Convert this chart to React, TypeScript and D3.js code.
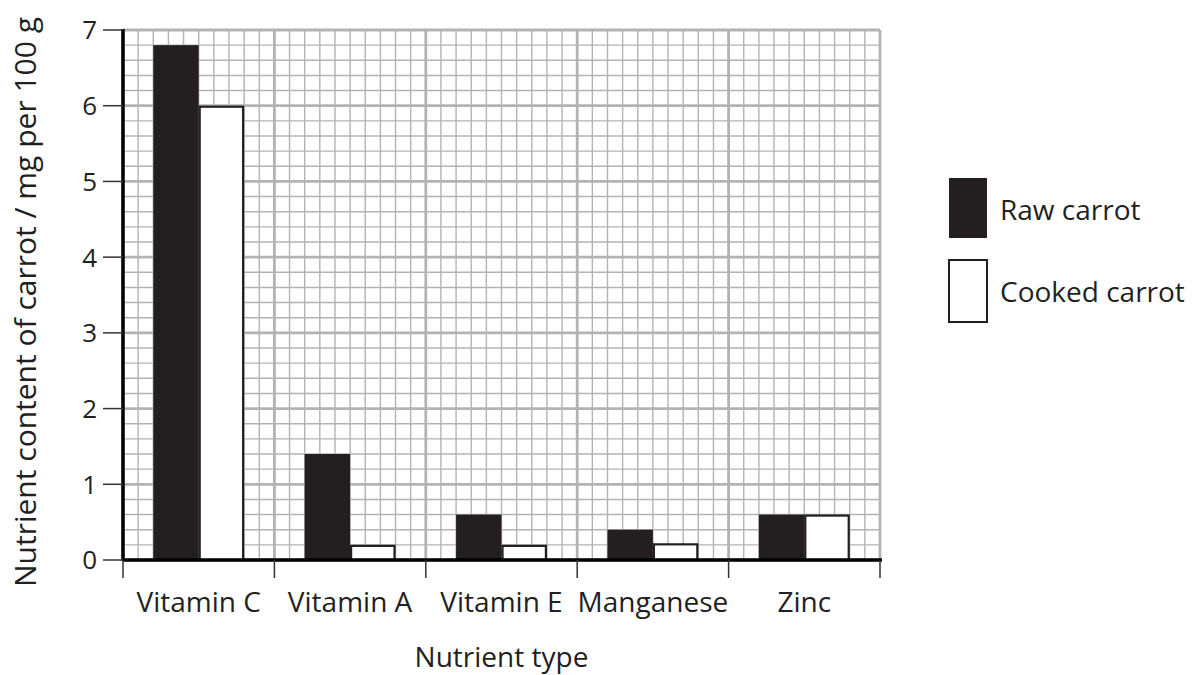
import React from "react";
import * as d3 from "d3";

// nutrient values, mg per 100 g
const categories = ["Vitamin C", "Vitamin A", "Vitamin E", "Manganese", "Zinc"];
const rawCarrot = [6.8, 1.4, 0.6, 0.4, 0.6];
const cookedCarrot = [6.0, 0.2, 0.2, 0.22, 0.6];
const yTicks = [0, 1, 2, 3, 4, 5, 6, 7];
const seriesNames = ["Raw carrot", "Cooked carrot"];

const FONT = "'Open Sans', sans-serif";
const GRID = "#b3b3b3";
const DARK = "#231f20";

export default function App() {
  const width = 1195;
  const height = 675;
  const margin = { top: 30, right: 315, bottom: 115, left: 123 };
  const plotW = width - margin.left - margin.right;
  const plotH = height - margin.top - margin.bottom;

  const x = d3.scaleBand().domain(categories).range([0, plotW]).padding(0);
  const bw = x.bandwidth();
  // bars sit on cells 2..8 of the 10 grid cells in each category
  const inner = d3
    .scaleBand()
    .domain(seriesNames)
    .range([bw * 0.2, bw * 0.8])
    .padding(0);
  const y = d3.scaleLinear().domain([0, 7]).range([plotH, 0]);

  // grid lines
  const hLines = d3.range(0, 7.0001, 0.2).map((v, i) => ({ v, major: i % 5 === 0 }));
  const vLines = d3.range(0, categories.length * 10 + 1).map((i) => ({ pos: (i * bw) / 10, major: i % 10 === 0 }));

  const series = [
    { name: seriesNames[0], values: rawCarrot, fill: DARK },
    { name: seriesNames[1], values: cookedCarrot, fill: "#fff" },
  ];

  return (
    <svg width={width} height={height} style={{ position: "absolute", left: 0, top: 0, background: "#fff" }}>
      <g transform={`translate(${margin.left},${margin.top})`}>
        {/* minor grid first, major on top */}
        {hLines.filter((d) => !d.major).map((d, i) => (
          <line key={"hm" + i} x1={0} x2={plotW} y1={y(d.v)} y2={y(d.v)} stroke={GRID} strokeWidth={1.4} />
        ))}
        {vLines.filter((d) => !d.major).map((d, i) => (
          <line key={"vm" + i} x1={d.pos} x2={d.pos} y1={0} y2={plotH} stroke={GRID} strokeWidth={1.4} />
        ))}
        {hLines.filter((d) => d.major).map((d, i) => (
          <line key={"hM" + i} x1={0} x2={plotW} y1={y(d.v)} y2={y(d.v)} stroke={GRID} strokeWidth={2.8} />
        ))}
        {vLines.filter((d) => d.major).map((d, i) => (
          <line key={"vM" + i} x1={d.pos} x2={d.pos} y1={0} y2={plotH} stroke={GRID} strokeWidth={2.8} />
        ))}

        {/* bars */}
        {series.map((s) =>
          categories.map((c, i) => {
            const x0 = (x(c) as number) + (inner(s.name) as number);
            const w = inner.bandwidth();
            const top = y(s.values[i]);
            return s.fill === DARK ? (
              <rect key={s.name + c} x={x0} y={top} width={w} height={plotH - top} fill={DARK} />
            ) : (
              <rect
                key={s.name + c}
                x={x0 + 1}
                y={top + 1}
                width={w - 2}
                height={plotH - top - 1}
                fill="#fff"
                stroke={DARK}
                strokeWidth={2.2}
              />
            );
          })
        )}

        {/* y axis */}
        <line x1={0} x2={0} y1={-1} y2={plotH + 1} stroke="#000" strokeWidth={3.5} />
        {yTicks.map((t) => (
          <g key={"yt" + t} transform={`translate(0,${y(t)})`}>
            <line x1={-20} x2={0} y1={0} y2={0} stroke="#333" strokeWidth={1.5} />
            <text x={-26} y={0} dy="0.36em" textAnchor="end" fontFamily={FONT} fontSize={26} fill={DARK}>
              {t}
            </text>
          </g>
        ))}

        {/* x axis */}
        <line x1={0} x2={plotW + 2} y1={plotH} y2={plotH} stroke="#000" strokeWidth={3.5} />
        {vLines.filter((d) => d.major).map((d, i) => (
          <line key={"xt" + i} x1={d.pos} x2={d.pos} y1={plotH} y2={plotH + 18} stroke="#333" strokeWidth={1.5} />
        ))}
        {categories.map((c) => (
          <text
            key={"xl" + c}
            x={(x(c) as number) + bw / 2}
            y={plotH + 52}
            textAnchor="middle"
            fontFamily={FONT}
            fontSize={28}
            fill={DARK}
          >
            {c}
          </text>
        ))}

        <text x={plotW / 2} y={plotH + 107} textAnchor="middle" fontFamily={FONT} fontSize={28} fill={DARK}>
          Nutrient type
        </text>
        <text
          transform={`translate(${-margin.left + 36},${272}) rotate(-90)`}
          textAnchor="middle"
          fontFamily={FONT}
          fontSize={30}
          fill={DARK}
        >
          Nutrient content of carrot / mg per 100 g
        </text>
      </g>

      {/* legend */}
      <g transform="translate(949,178)">
        <rect x={0} y={0} width={38} height={60} fill={DARK} />
        <text x={51} y={32} dy="0.36em" fontFamily={FONT} fontSize={28} fill={DARK}>
          {seriesNames[0]}
        </text>
        <rect x={0} y={82} width={38} height={62} fill="#fff" stroke={DARK} strokeWidth={2} />
        <text x={51} y={114} dy="0.36em" fontFamily={FONT} fontSize={28} fill={DARK}>
          {seriesNames[1]}
        </text>
      </g>
    </svg>
  );
}
